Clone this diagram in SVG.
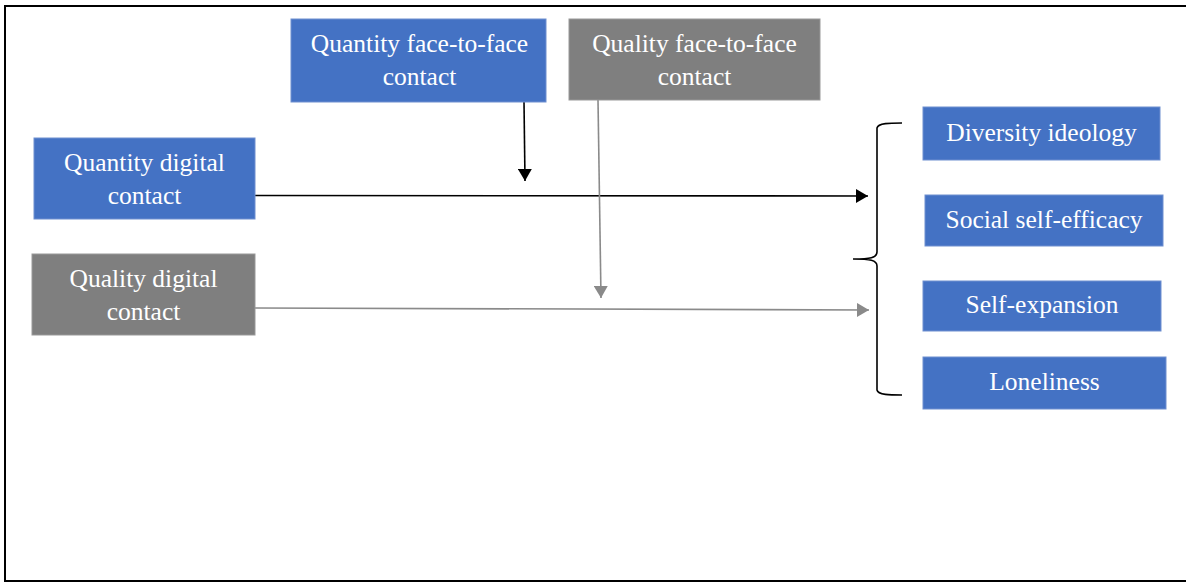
<svg xmlns="http://www.w3.org/2000/svg" width="1186" height="584" viewBox="0 0 1186 584">
<style>
.blue{fill:#4472C4;stroke:#6E8FD0;stroke-width:1}
.gray{fill:#7F7F7F;stroke:#999;stroke-width:1}
.t{font-size:25.5px;fill:#fff;text-anchor:middle}
</style>
<defs>
<marker id="ab" markerWidth="12" markerHeight="14" refX="12" refY="7" orient="auto" markerUnits="userSpaceOnUse"><path d="M0,0 L12,7 L0,14 Z" fill="#000"/></marker>
<marker id="ag" markerWidth="12" markerHeight="14" refX="12" refY="7" orient="auto" markerUnits="userSpaceOnUse"><path d="M0,0 L12,7 L0,14 Z" fill="#8a8a8a"/></marker>
</defs>
<rect x="0" y="0" width="1186" height="584" fill="#fff"/>
<path d="M5,582 L5,6 L1186,6" fill="none" stroke="#000" stroke-width="2"/>
<path d="M5,581 L1186,581" fill="none" stroke="#000" stroke-width="2"/>
<g id="connectors">
<line x1="255" y1="195.5" x2="868" y2="196" stroke="#000" stroke-width="1.6" marker-end="url(#ab)"/>
<line x1="524" y1="102" x2="525" y2="181" stroke="#000" stroke-width="1.6" marker-end="url(#ab)"/>
<line x1="255" y1="308" x2="869" y2="310" stroke="#8a8a8a" stroke-width="1.6" marker-end="url(#ag)"/>
<line x1="598" y1="100" x2="601" y2="298" stroke="#8a8a8a" stroke-width="1.6" marker-end="url(#ag)"/>
<path d="M902,123 C890,123 878,123 877,128 L877,252 C877,258 870,259 853,259 C870,259 877,260 877,266 L877,390 C878,395 890,395 902,395" fill="none" stroke="#000" stroke-width="1.6"/>
</g>
<g id="qty-f2f" font-family="Liberation Serif, serif"><rect class="blue" x="291" y="19" width="255" height="83"/><text class="t" x="419.5" y="52">Quantity face-to-face</text><text class="t" x="419.5" y="85">contact</text></g>
<g id="qual-f2f" font-family="Liberation Serif, serif"><rect class="gray" x="569" y="19" width="251" height="81"/><text class="t" x="694.5" y="52">Quality face-to-face</text><text class="t" x="694.5" y="85">contact</text></g>
<g id="qty-digital" font-family="Liberation Serif, serif"><rect class="blue" x="34" y="138" width="221" height="81"/><text class="t" x="144.5" y="171">Quantity digital</text><text class="t" x="144.5" y="204">contact</text></g>
<g id="qual-digital" font-family="Liberation Serif, serif"><rect class="gray" x="32" y="254" width="223" height="81"/><text class="t" x="143.5" y="287">Quality digital</text><text class="t" x="143.5" y="320">contact</text></g>
<g id="diversity" font-family="Liberation Serif, serif"><rect class="blue" x="923" y="107" width="237" height="53"/><text class="t" x="1041.5" y="141">Diversity ideology</text></g>
<g id="social" font-family="Liberation Serif, serif"><rect class="blue" x="925" y="195" width="238" height="51"/><text class="t" x="1044" y="228">Social self-efficacy</text></g>
<g id="selfexp" font-family="Liberation Serif, serif"><rect class="blue" x="923" y="281" width="238" height="50"/><text class="t" x="1042" y="313">Self-expansion</text></g>
<g id="loneliness" font-family="Liberation Serif, serif"><rect class="blue" x="923" y="357" width="243" height="52"/><text class="t" x="1044.5" y="390">Loneliness</text></g>
</svg>
